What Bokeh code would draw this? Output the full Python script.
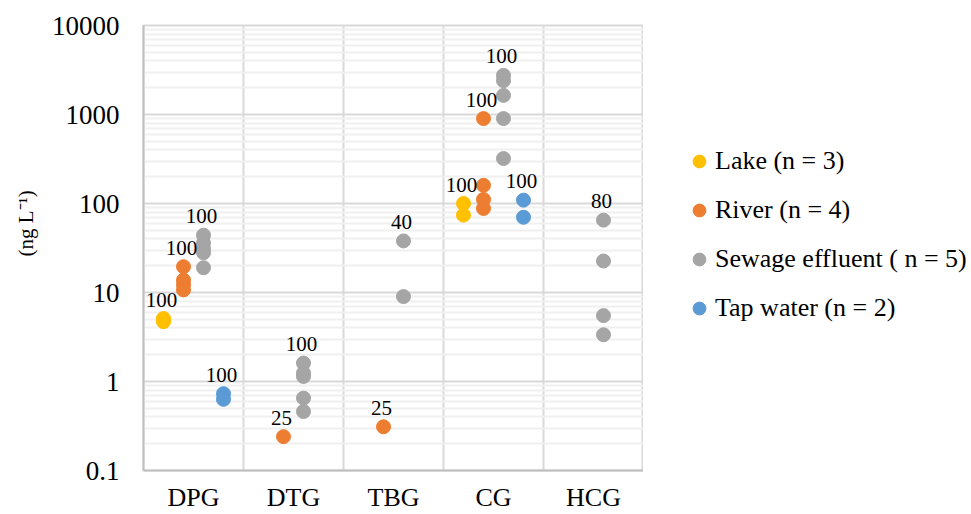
from bokeh.plotting import figure
from bokeh.layouts import row
from bokeh.models import (ColumnDataSource, Range1d, FixedTicker, LabelSet, Title,
                          Legend, LegendItem, BasicTickFormatter)
from bokeh.embed import file_html
from bokeh.resources import INLINE

# ---------------- data ----------------
categories = ["DPG", "DTG", "TBG", "CG", "HCG"]
y_ticks = [0.1, 1, 10, 100, 1000, 10000]
y_tick_labels = ["0.1", "1", "10", "100", "1000", "10000"]

lake_cat = ["DPG", "DPG", "DPG", "CG", "CG"]
lake_val = [4.7, 4.9, 5.1, 100, 74]

river_cat = ["DPG", "DPG", "DPG", "DPG", "DTG", "TBG", "CG", "CG", "CG", "CG"]
river_val = [19.5, 13.8, 12.2, 10.7, 0.24, 0.31, 900, 160, 111, 88]

sewage_cat = ["DPG"] * 5 + ["DTG"] * 5 + ["TBG"] * 2 + ["CG"] * 5 + ["HCG"] * 4
sewage_val = [44, 36, 31, 28, 19,
              1.61, 1.24, 1.14, 0.65, 0.46,
              38, 9.0,
              2750, 2400, 1640, 900, 320,
              65, 22.6, 5.5, 3.35]

tap_cat = ["DPG", "DPG", "CG", "CG"]
tap_val = [0.73, 0.63, 109, 70]

# detection frequency (%) labels
lake_freq_cat = ["DPG", "CG"]
lake_freq = ["100", "100"]
river_freq_cat = ["DPG", "DTG", "TBG", "CG"]
river_freq = ["100", "25", "25", "100"]
sewage_freq_cat = ["DPG", "DTG", "TBG", "CG", "HCG"]
sewage_freq = ["100", "100", "40", "100", "80"]
tap_freq_cat = ["DPG", "CG"]
tap_freq = ["100", "100"]

series_names = ["Lake (n = 3)", "River (n = 4)", "Sewage effluent ( n = 5)", "Tap water (n = 2)"]
series_colors = ["#FFC000", "#ED7D31", "#A5A5A5", "#5B9BD5"]
series_offsets = [-0.3, -0.1, 0.1, 0.3]
y_title = "(ng L\u207b\u00b9)"

FONT = "Liberation Serif"
BORDERS = dict(min_border_top=25, min_border_bottom=43)

# ---------------- main figure ----------------
p = figure(width=643, height=514, x_range=Range1d(0, len(categories)),
           y_range=Range1d(0.1, 10000), y_axis_type="log",
           output_backend="svg", toolbar_location=None,
           min_border_left=142, min_border_right=0, **BORDERS)
p.background_fill_color = "white"
p.border_fill_color = "white"
p.outline_line_color = "#d9d9d9"
p.outline_line_width = 2

minor = [m * t for t in y_ticks[:-1] for m in range(2, 10)]
yticker = FixedTicker(ticks=y_ticks, minor_ticks=minor)
p.yaxis.ticker = yticker
p.yaxis.formatter = BasicTickFormatter()
p.yaxis.major_label_overrides = dict(zip(y_ticks, y_tick_labels))
p.yaxis.major_tick_in = 0
p.yaxis.major_tick_out = 0
p.yaxis.minor_tick_in = 0
p.yaxis.minor_tick_out = 0
p.yaxis.axis_line_color = "#bfbfbf"
p.yaxis.axis_line_width = 2
p.yaxis.major_label_standoff = 24
p.yaxis.major_label_text_font = FONT
p.yaxis.major_label_text_font_size = "27px"
p.yaxis.major_label_text_color = "black"

cat_pos = [i + 0.5 for i in range(len(categories))]
p.xaxis.ticker = FixedTicker(ticks=cat_pos)
p.xaxis.major_label_overrides = dict(zip(cat_pos, categories))
p.xaxis.major_tick_in = 0
p.xaxis.major_tick_out = 0
p.xaxis.minor_tick_in = 0
p.xaxis.minor_tick_out = 0
p.xaxis.axis_line_color = "#bfbfbf"
p.xaxis.axis_line_width = 2
p.xaxis.major_label_standoff = 12
p.xaxis.major_label_text_font = FONT
p.xaxis.major_label_text_font_size = "26px"
p.xaxis.major_label_text_color = "black"

p.ygrid.ticker = yticker
p.ygrid.grid_line_color = "#d9d9d9"
p.ygrid.grid_line_width = 2
p.ygrid.minor_grid_line_color = "#f0f0f0"
p.ygrid.minor_grid_line_width = 2
p.xgrid.ticker = FixedTicker(ticks=list(range(len(categories) + 1)))
p.xgrid.grid_line_color = "#d9d9d9"
p.xgrid.grid_line_width = 2

# ---------------- legend panel (its ranges show none of the points) ----------------
q = figure(width=328, height=514, x_range=Range1d(-2, -1), y_range=Range1d(-2, -1),
           x_axis_location=None, y_axis_location=None,
           output_backend="svg", toolbar_location=None,
           min_border_left=0, min_border_right=0, **BORDERS)
q.outline_line_color = None
q.grid.visible = False
q.background_fill_color = "white"
q.border_fill_color = "white"

# ---------------- series ----------------
series = [(lake_cat, lake_val, lake_freq_cat, lake_freq),
          (river_cat, river_val, river_freq_cat, river_freq),
          (sewage_cat, sewage_val, sewage_freq_cat, sewage_freq),
          (tap_cat, tap_val, tap_freq_cat, tap_freq)]

items = []
for (cats, vals, fcats, ftexts), name, color, off in zip(series, series_names, series_colors, series_offsets):
    xs = [categories.index(c) + 0.5 + off for c in cats]
    src = ColumnDataSource(dict(x=xs, y=vals))
    style = dict(size=14, marker="circle", fill_color=color, line_color=color)
    p.scatter(x="x", y="y", source=src, **style)
    key = q.scatter(x="x", y="y", source=src, **style)
    items.append(LegendItem(label=name, renderers=[key]))
    lx = [categories.index(c) + 0.5 + off for c in fcats]
    ly = [max(v for cc, v in zip(cats, vals) if cc == c) for c in fcats]
    lsrc = ColumnDataSource(dict(x=lx, y=ly, t=ftexts))
    p.add_layout(LabelSet(x="x", y="y", text="t", source=lsrc, x_offset=-2, y_offset=19,
                          text_align="center", text_baseline="middle",
                          text_font=FONT, text_font_size="21px", text_color="black"))

# y title (left of the axis)
ytitle = Title(text=y_title, align="left", offset=214, standoff=22,
               text_font=FONT, text_font_size="21px", text_font_style="normal",
               text_color="black")
p.add_layout(ytitle, "left")

legend = Legend(items=items, location=(40, 146), orientation="vertical",
                glyph_width=32, glyph_height=32, label_height=32, label_standoff=0,
                spacing=17, padding=0, margin=0, border_line_color=None,
                background_fill_alpha=0, label_text_font=FONT,
                label_text_font_size="26px", label_text_color="black")
q.add_layout(legend)

layout = row(p, q, spacing=0)
open("out.html", "w").write(file_html(layout, INLINE))
